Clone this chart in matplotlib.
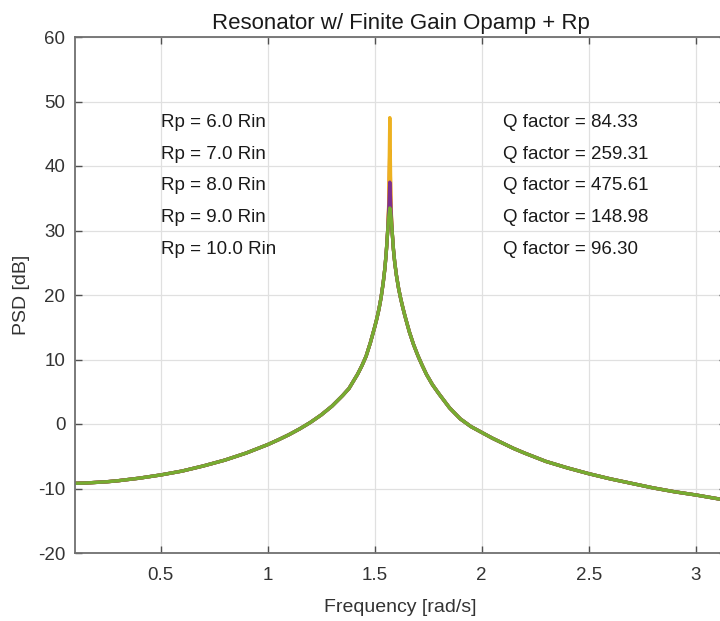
import matplotlib
matplotlib.use("Agg")
import matplotlib.pyplot as plt

# frequency samples [rad/s], dense around the resonance
freq_left = [0.10, 0.15, 0.20, 0.25, 0.30, 0.35, 0.40, 0.45, 0.50, 0.55,
             0.60, 0.65, 0.70, 0.75, 0.80, 0.85, 0.90, 0.95, 1.00, 1.05,
             1.10, 1.15, 1.20, 1.25, 1.30, 1.35, 1.38, 1.40, 1.42, 1.44,
             1.46, 1.48, 1.50, 1.51, 1.52, 1.53, 1.54, 1.548, 1.554, 1.558,
             1.561]
psd_left = [-9.2, -9.15, -9.05, -8.95, -8.8, -8.6, -8.4, -8.15, -7.9, -7.6,
            -7.3, -6.9, -6.5, -6.05, -5.6, -5.05, -4.5, -3.85, -3.2, -2.45,
            -1.65, -0.75, 0.25, 1.4, 2.75, 4.4, 5.5, 6.6, 7.7, 9.0,
            10.5, 12.6, 15.0, 16.3, 17.8, 19.6, 21.9, 24.2, 26.5, 28.4,
            30.0]

freq_peak = [1.5655, 1.5708, 1.5761]

freq_right = [1.581, 1.584, 1.588, 1.594, 1.602, 1.612, 1.622, 1.632, 1.642, 1.662,
              1.682, 1.702, 1.722, 1.742, 1.77, 1.80, 1.85, 1.90, 1.95, 2.00,
              2.05, 2.10, 2.15, 2.20, 2.30, 2.40, 2.50, 2.60, 2.70, 2.80,
              2.90, 3.00, 3.07, 3.14]
psd_right = [30.2, 28.8, 27.0, 25.0, 23.0, 21.0, 19.4, 18.0, 16.7, 14.3,
             12.3, 10.6, 9.1, 7.7, 6.1, 4.7, 2.5, 0.8, -0.4, -1.3,
             -2.2, -3.0, -3.8, -4.5, -5.8, -6.8, -7.7, -8.5, -9.2, -9.9,
             -10.5, -11.0, -11.4, -11.8]

# near-peak values per Rp setting
peak_rp6 = [31.2, 32.0, 31.4]
peak_rp7 = [33.5, 42.5, 33.8]
peak_rp8 = [34.0, 47.5, 34.3]
peak_rp9 = [33.0, 37.5, 33.3]
peak_rp10 = [32.0, 33.5, 32.3]

rp_labels = ["Rp = 6.0 Rin", "Rp = 7.0 Rin", "Rp = 8.0 Rin", "Rp = 9.0 Rin", "Rp = 10.0 Rin"]
q_labels = ["Q factor = 84.33", "Q factor = 259.31", "Q factor = 475.61",
            "Q factor = 148.98", "Q factor = 96.30"]
label_y = [46.7, 41.8, 36.9, 32.0, 27.1]

colors = ["#0072bd", "#d95319", "#edb120", "#7e2f8e", "#77ac30"]
peaks = [peak_rp6, peak_rp7, peak_rp8, peak_rp9, peak_rp10]

plt.rcParams["font.family"] = ["Liberation Sans", "DejaVu Sans"]
plt.rcParams["axes.unicode_minus"] = False

fig = plt.figure(figsize=(7.2, 6.21), dpi=100)
ax = fig.add_axes([75 / 720, 68 / 621, 651 / 720, 516 / 621])

freq = freq_left + freq_peak + freq_right
for peak, color in zip(peaks, colors):
    ax.plot(freq, psd_left + peak + psd_right, color=color, linewidth=2.4,
            solid_joinstyle="round")

for y, rp, q in zip(label_y, rp_labels, q_labels):
    ax.text(0.5, y, rp, va="center", ha="left", fontsize=13.5, color="#1a1a1a")
    ax.text(2.1, y, q, va="center", ha="left", fontsize=13.5, color="#1a1a1a")

ax.set_xlim(0.1, 3.1416)
ax.set_ylim(-20, 60)
ax.set_xticks([0.5, 1, 1.5, 2, 2.5, 3])
ax.set_xticklabels(["0.5", "1", "1.5", "2", "2.5", "3"])
ax.set_yticks(range(-20, 61, 10))
ax.grid(True, color="#e0e0e0", linewidth=0.9)
ax.set_axisbelow(True)
for side in ax.spines.values():
    side.set_color("#707070")
    side.set_linewidth(1.3)
ax.tick_params(direction="in", length=5, width=1, color="#505050",
               labelsize=13.5, labelcolor="#333333", top=True, right=True)
ax.tick_params(axis="x", pad=10)
ax.tick_params(axis="y", pad=7)
ax.set_xlabel("Frequency [rad/s]", fontsize=14, color="#333333", labelpad=11)
ax.set_ylabel("PSD [dB]", fontsize=14, color="#333333", labelpad=6)
ax.set_title("Resonator w/ Finite Gain Opamp + Rp", fontsize=16, color="#1a1a1a", pad=6)

fig.savefig("out.png", dpi=100, facecolor="white")
